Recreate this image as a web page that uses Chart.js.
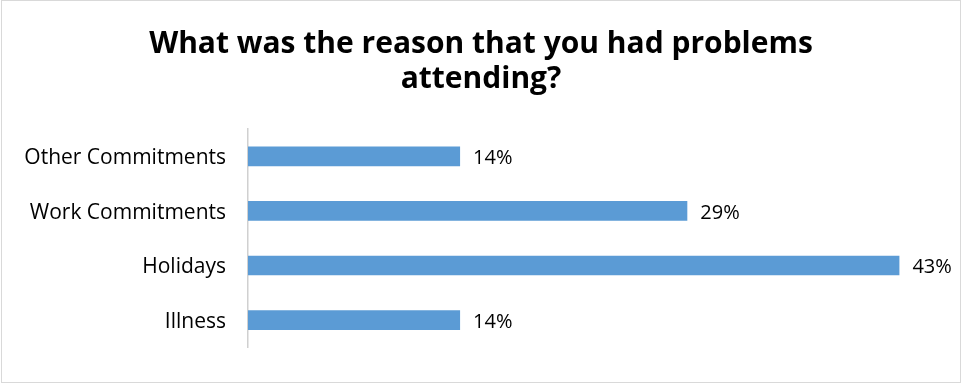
<!DOCTYPE html>
<html>
<head>
<meta charset="utf-8">
<script src="https://cdn.jsdelivr.net/npm/chart.js@4/dist/chart.umd.min.js"></script>
<style>
  body { margin: 0; background: #fff; }
  #wrap { position: absolute; left: 1px; top: 0; width: 958px; height: 381px; border: 1px solid #d9d9d9; }
</style>
</head>
<body>
<div id="wrap"><canvas id="reasonChart" width="958" height="381"></canvas></div>
<script>
const reasons = ['Other Commitments', 'Work Commitments', 'Holidays', 'Illness'];
const shares = [14, 29, 43, 14];
const titleLines = ['What was the reason that you had problems', 'attending?'];

const FONT = '"Open Sans", Lato, sans-serif';

// print the percentage just past the end of each bar
const valueLabels = {
    id: 'valueLabels',
    afterDatasetsDraw(chart) {
        const ctx = chart.ctx;
        const meta = chart.getDatasetMeta(0);
        ctx.save();
        ctx.font = '20px ' + FONT;
        ctx.fillStyle = '#000';
        ctx.textAlign = 'left';
        ctx.textBaseline = 'middle';
        meta.data.forEach((bar, i) => {
            ctx.fillText(shares[i] + '%', bar.x + 13, bar.y + 2);
        });
        ctx.restore();
    }
};

new Chart(document.getElementById('reasonChart'), {
    type: 'bar',
    data: {
        labels: reasons,
        datasets: [{
            data: shares,
            backgroundColor: '#5b9bd5',
            barPercentage: 0.36,
            categoryPercentage: 1
        }]
    },
    options: {
        indexAxis: 'y',
        responsive: false,
        animation: false,
        layout: { padding: { left: 0, right: 0, top: 0, bottom: 27 } },
        plugins: {
            legend: { display: false },
            tooltip: { enabled: false },
            title: {
                display: true,
                text: titleLines,
                color: '#000',
                font: { family: FONT, size: 30, weight: 'bold', lineHeight: 35 / 30 },
                padding: { top: 26, bottom: 32 }
            }
        },
        scales: {
            // the axis runs to the right edge; 47 leaves room for the 43% label
            x: { display: false, min: 0, max: 47 },
            y: {
                afterFit(scale) { scale.width = 246; },
                grid: { display: false, drawTicks: false },
                border: { display: true, color: '#d0d0d0', width: 1.5 },
                ticks: { color: '#000', padding: 22, labelOffset: 2, font: { family: FONT, size: 21 } }
            }
        }
    },
    plugins: [valueLabels]
});
</script>
</body>
</html>
